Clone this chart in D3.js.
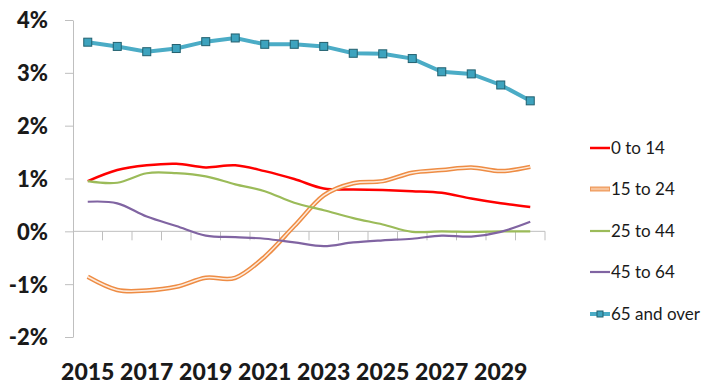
<!DOCTYPE html>
<html>
<head>
<meta charset="utf-8">
<script src="https://cdn.jsdelivr.net/npm/d3@7"></script>
<style>
  body { margin: 0; background: #fff; }
  #chart { width: 710px; height: 385px; }
</style>
</head>
<body>
<div id="chart"></div>
<script>
// growth rate by age group, % per year
const years = [2015, 2016, 2017, 2018, 2019, 2020, 2021, 2022, 2023, 2024, 2025, 2026, 2027, 2028, 2029, 2030];
const yTicks = [-2, -1, 0, 1, 2, 3, 4];
const xLabels = [2015, 2017, 2019, 2021, 2023, 2025, 2027, 2029];

const age0to14 = [0.95, 1.16, 1.25, 1.28, 1.21, 1.25, 1.14, 0.99, 0.81, 0.79, 0.78, 0.76, 0.73, 0.62, 0.53, 0.46];
const age15to24 = [-0.86, -1.11, -1.12, -1.05, -0.88, -0.88, -0.48, 0.10, 0.68, 0.91, 0.95, 1.11, 1.16, 1.21, 1.14, 1.22];
const age25to44 = [0.95, 0.92, 1.10, 1.10, 1.04, 0.89, 0.76, 0.54, 0.40, 0.25, 0.13, -0.01, 0.00, -0.01, 0.00, 0.00];
const age45to64 = [0.56, 0.53, 0.28, 0.10, -0.08, -0.11, -0.14, -0.21, -0.28, -0.21, -0.17, -0.14, -0.08, -0.10, -0.01, 0.18];
const age65plus = [3.58, 3.50, 3.40, 3.46, 3.59, 3.66, 3.54, 3.54, 3.50, 3.37, 3.36, 3.27, 3.02, 2.98, 2.77, 2.47];

const seriesNames = ['0 to 14', '15 to 24', '25 to 44', '45 to 64', '65 and over'];

const width = 710, height = 385;
const plot = {left: 73, right: 545, top: 20, bottom: 337};

const svg = d3.select('#chart').append('svg')
  .attr('width', width)
  .attr('height', height);

const x = d3.scaleBand()
  .domain(years)
  .range([plot.left, plot.right]);

const y = d3.scaleLinear()
  .domain([-2, 4])
  .range([plot.bottom, plot.top]);

const axisColor = '#BFBFBF';

// y axis
const yAxis = svg.append('g')
  .attr('transform', `translate(${plot.left},0)`)
  .call(d3.axisLeft(y).tickValues(yTicks).tickSize(8).tickSizeOuter(0).tickFormat(d => d + '%'));
yAxis.selectAll('path, line').attr('stroke', axisColor);
yAxis.selectAll('text')
  .attr('x', -25)
  .attr('dy', '0.36em')
  .style('font-family', 'Lato, sans-serif')
  .style('font-weight', '900')
  .style('font-size', '22px')
  .attr('fill', '#1a1a1a');

// x axis at 0%, ticks on category boundaries
const xAxis = svg.append('g');
xAxis.append('line')
  .attr('x1', plot.left).attr('x2', plot.right)
  .attr('y1', y(0)).attr('y2', y(0))
  .attr('stroke', axisColor);
xAxis.selectAll('line.tick')
  .data(years.slice(1).concat(['end']))
  .enter().append('line')
  .attr('class', 'tick')
  .attr('x1', d => d === 'end' ? plot.right : x(d))
  .attr('x2', d => d === 'end' ? plot.right : x(d))
  .attr('y1', y(0)).attr('y2', y(0) + 9)
  .attr('stroke', axisColor);

svg.append('g').selectAll('text')
  .data(xLabels)
  .enter().append('text')
  .attr('x', d => x(d) + x.bandwidth() / 2)
  .attr('y', 380)
  .attr('text-anchor', 'middle')
  .style('font-family', 'Lato, sans-serif')
  .style('font-weight', '900')
  .style('font-size', '23px')
  .attr('fill', '#1a1a1a')
  .text(d => d);

const cx = (d, i) => x(years[i]) + x.bandwidth() / 2;

const smooth = d3.line()
  .x(cx)
  .y(d => y(d))
  .curve(d3.curveCatmullRom.alpha(0));

const straight = d3.line()
  .x(cx)
  .y(d => y(d));

// 0 to 14
svg.append('path')
  .attr('d', smooth(age0to14))
  .attr('fill', 'none')
  .attr('stroke', '#FF0000')
  .attr('stroke-width', 2.5);

// 15 to 24, double line
svg.append('path')
  .attr('d', smooth(age15to24))
  .attr('fill', 'none')
  .attr('stroke', '#EE8C44')
  .attr('stroke-width', 4.5);
svg.append('path')
  .attr('d', smooth(age15to24))
  .attr('fill', 'none')
  .attr('stroke', '#FDEBDC')
  .attr('stroke-width', 1.5);

// 25 to 44
svg.append('path')
  .attr('d', smooth(age25to44))
  .attr('fill', 'none')
  .attr('stroke', '#9BBB59')
  .attr('stroke-width', 2.2);

// 45 to 64
svg.append('path')
  .attr('d', smooth(age45to64))
  .attr('fill', 'none')
  .attr('stroke', '#8064A2')
  .attr('stroke-width', 2.2);

// 65 and over
svg.append('path')
  .attr('d', straight(age65plus))
  .attr('fill', 'none')
  .attr('stroke', '#4BACC6')
  .attr('stroke-width', 4);

svg.append('g').selectAll('rect')
  .data(age65plus)
  .enter().append('rect')
  .attr('x', (d, i) => cx(d, i) - 4)
  .attr('y', d => y(d) - 4)
  .attr('width', 8)
  .attr('height', 8)
  .attr('fill', '#3DA3BE')
  .attr('stroke', '#22606F')
  .attr('stroke-width', 1);

// legend
const legendY = [148, 189, 231, 272, 314];
const legend = svg.append('g');

legend.append('line')
  .attr('x1', 590).attr('x2', 610).attr('y1', legendY[0]).attr('y2', legendY[0])
  .attr('stroke', '#FF0000').attr('stroke-width', 2.5);
legend.append('line')
  .attr('x1', 590).attr('x2', 610).attr('y1', legendY[1]).attr('y2', legendY[1])
  .attr('stroke', '#EE9A5C').attr('stroke-width', 5);
legend.append('line')
  .attr('x1', 591).attr('x2', 609).attr('y1', legendY[1]).attr('y2', legendY[1])
  .attr('stroke', '#F8C39A').attr('stroke-width', 2.5);
legend.append('line')
  .attr('x1', 590).attr('x2', 610).attr('y1', legendY[2]).attr('y2', legendY[2])
  .attr('stroke', '#9BBB59').attr('stroke-width', 2.2);
legend.append('line')
  .attr('x1', 590).attr('x2', 610).attr('y1', legendY[3]).attr('y2', legendY[3])
  .attr('stroke', '#8064A2').attr('stroke-width', 2.2);
legend.append('line')
  .attr('x1', 590).attr('x2', 610).attr('y1', legendY[4]).attr('y2', legendY[4])
  .attr('stroke', '#4BACC6').attr('stroke-width', 4);
legend.append('rect')
  .attr('x', 597).attr('y', legendY[4] - 3).attr('width', 6).attr('height', 6)
  .attr('fill', '#3DA3BE').attr('stroke', '#22606F').attr('stroke-width', 1);

legend.selectAll('text')
  .data(seriesNames)
  .enter().append('text')
  .attr('x', 611)
  .attr('y', (d, i) => legendY[i])
  .attr('dy', '0.35em')
  .style('font-family', 'Lato, sans-serif')
  .style('font-size', '17px')
  .attr('fill', '#1a1a1a')
  .text(d => d);
</script>
</body>
</html>
